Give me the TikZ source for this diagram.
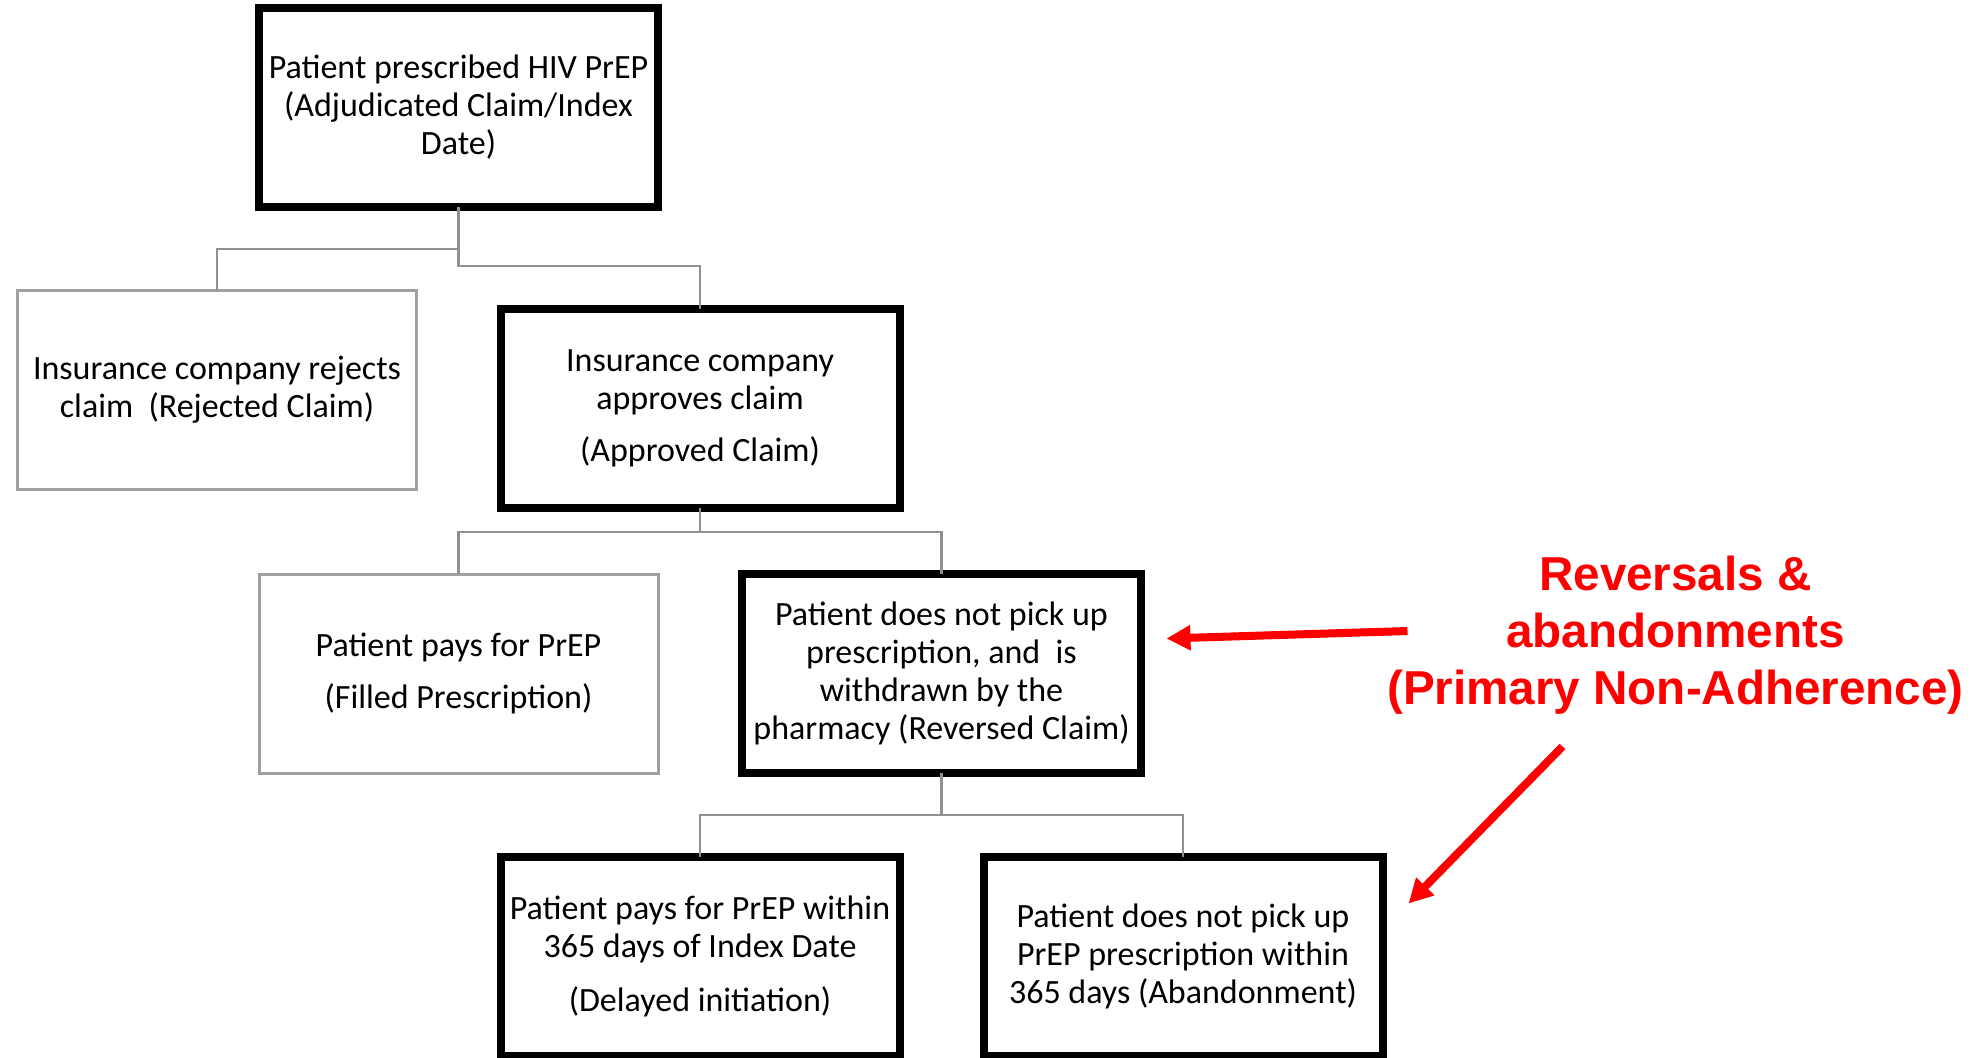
\documentclass[tikz,border=0pt]{standalone}
\usepackage{fontspec}
\setmainfont{Carlito}
\newfontfamily\notefont{Liberation Sans}
\usetikzlibrary{arrows.meta, positioning}
\definecolor{boxgray}{RGB}{160,160,160}
\definecolor{linkgray}{RGB}{145,145,145}

\begin{document}
\begin{tikzpicture}[x=0.5pt, y=-0.5pt,
    mainbox/.style={draw, rectangle, line width=4pt, outer sep=0pt, inner sep=0pt,
                    minimum width=199.5pt, minimum height=99.5pt,
                    align=center, font=\fontsize{17pt}{19pt}\selectfont},
    sidebox/.style={mainbox, draw=boxgray, line width=1.5pt},
    link/.style={draw=linkgray, line width=1.4pt},
    callout/.style={draw=red, line width=4pt, -{Triangle[length=12pt, width=12pt]}},
    note/.style={align=center, text=red,
                 font=\notefont\bfseries\fontsize{23.8pt}{28.5pt}\selectfont},
    node distance=0pt
  ]
  \useasboundingbox (0,0) rectangle (1972,1057);

  \node[mainbox] (prescribed) at (458.5,107.5)
    {Patient prescribed HIV PrEP\\(Adjudicated Claim/Index\\Date)};
  \node[sidebox, below=41.5pt of prescribed, xshift=-120.75pt] (rejected)
    {Insurance company rejects\\claim~ (Rejected Claim)};
  \node[mainbox, below=51pt of prescribed, xshift=120.75pt] (approved)
    {Insurance company\\approves claim\\[7pt](Approved Claim)};
  \node[sidebox, below=33pt of approved, xshift=-120.75pt] (filled)
    {Patient pays for PrEP\\[7pt](Filled Prescription)};
  \node[mainbox, below=33pt of approved, xshift=120.75pt] (reversed)
    {Patient does not pick up\\prescription, and~ is\\withdrawn by the\\pharmacy (Reversed Claim)};
  \node[mainbox, below=42pt of reversed, xshift=-120.75pt] (delayed)
    {Patient pays for PrEP within\\365 days of Index Date\\[8pt](Delayed initiation)};
  \node[mainbox, below=42pt of reversed, xshift=120.75pt] (abandoned)
    {Patient does not pick up\\PrEP prescription within\\365 days (Abandonment)};

  % tree links
  \draw[link] (prescribed.south) -- ++(0,42) -| (rejected.north);
  \draw[link] (prescribed.south) -- ++(0,59) -| (approved.north);
  \draw[link] (approved.south) -- ++(0,24) -| (filled.north);
  \draw[link] (approved.south) -- ++(0,24) -| (reversed.north);
  \draw[link] (reversed.south) -- ++(0,42) -| (delayed.north);
  \draw[link] (reversed.south) -- ++(0,42) -| (abandoned.north);

  % red note and arrows
  \node[note] (nonadh) at (1675.5,635.5)
    {Reversals \&\\abandonments\\(Primary Non-Adherence)};
  \coordinate (revtail) at (1407.5,631);
  \coordinate (abtail) at (1562.5,746.5);
  \draw[callout] (revtail) -- ([shift={(25.5,-35)}]reversed.east);
  \draw[callout] (abtail) -- ([shift={(26,-53)}]abandoned.east);
\end{tikzpicture}
\end{document}
